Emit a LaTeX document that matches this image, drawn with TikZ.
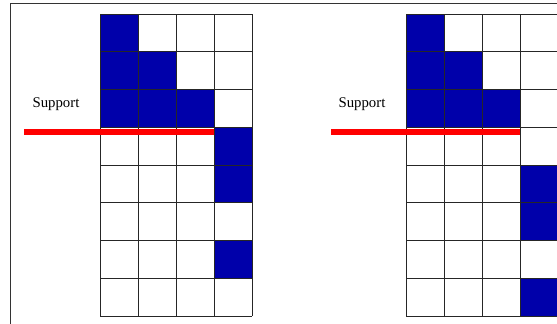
\documentclass[tikz,border=0pt]{standalone}
\usepackage{fontspec}
\setmainfont{Liberation Serif}
\definecolor{cellblue}{RGB}{0,0,170}

\begin{document}
\begin{tikzpicture}[x=1pt, y=-1pt,
    gridline/.style={black!85, line width=1pt},
    support/.style={red, line width=6pt},
    lbl/.style={font=\fontsize{14.8}{17}\selectfont, inner sep=0pt}]
  \useasboundingbox (0,0) rectangle (557,324);
  % outer frame (top and left only)
  \draw[black!80, line width=1.2pt] (10.5,324) -- (10.5,3.5) -- (557,3.5);

  % left board
  \foreach \c/\r in {0/0,0/1,1/1,0/2,1/2,2/2,3/3,3/4,3/6}
    \fill[cellblue] (100+\c*38, 14+\r*37.75) rectangle +(38,37.75);
  \foreach \i in {0,...,4}
    \draw[gridline] (100+\i*38,14) -- (100+\i*38,316);
  \foreach \j in {0,...,8}
    \draw[gridline] (100,14+\j*37.75) -- (252,14+\j*37.75);
  \node[lbl] (supL) at (56,104) {Support};
  \draw[support] (24,131.5) -- (214,131.5);

  % right board
  \foreach \c/\r in {0/0,0/1,1/1,0/2,1/2,2/2,3/4,3/5,3/7}
    \fill[cellblue] (406+\c*38, 14+\r*37.75) rectangle +(38,37.75);
  \foreach \i in {0,...,4}
    \draw[gridline] (406+\i*38,14) -- (406+\i*38,316);
  \foreach \j in {0,...,8}
    \draw[gridline] (406,14+\j*37.75) -- (558,14+\j*37.75);
  \node[lbl] (supR) at (362,104) {Support};
  \draw[support] (331,131.5) -- (520,131.5);
\end{tikzpicture}
\end{document}
